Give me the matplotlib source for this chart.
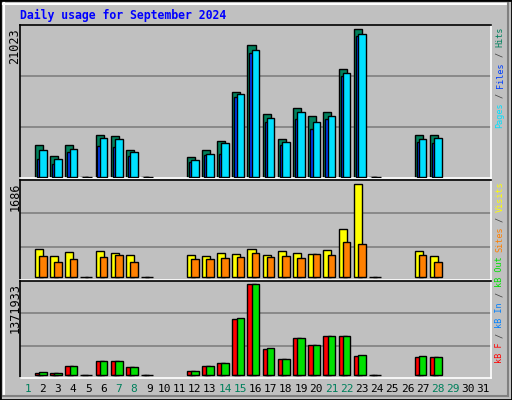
import numpy as np
import matplotlib
matplotlib.use("Agg")
import matplotlib.pyplot as plt
from matplotlib.patches import Rectangle
from matplotlib.lines import Line2D

N = np.nan
days = list(range(1, 32))
hits  = [N,4500,2940,4500,0,5920,5770,3790,0,N,N,2800,3790,5070,12030,18700,8900,5350,9750,8620,9190,15290,21023,0,N,N,5920,5920,N,N,N]
files = [N,3790,2510,3930,0,5490,5350,3510,0,N,N,2370,3220,4790,11740,17990,8330,4930,9190,7770,8620,14730,20260,0,N,N,5350,5490,N,N,N]
pages = [N,2510,1800,3510,0,4360,4210,2940,0,N,N,2090,3080,3220,11320,17560,7770,4500,8190,6770,8190,14300,19980,0,N,N,4930,4790,N,N,N]
visits = [N,499,371,444,0,462,426,389,0,N,N,389,371,426,408,499,389,462,426,408,481,864,1686,0,N,N,462,371,N,N,N]
sites  = [N,371,262,316,0,353,389,262,0,N,N,316,316,335,353,426,353,371,335,408,389,627,590,0,N,N,389,262,N,N,N]
kb_f   = [N,35000,35000,140000,0,215000,215000,125000,0,N,N,65000,140000,185000,846000,1371933,395000,245000,561000,455000,591000,591000,290000,0,N,N,275000,275000,N,N,N]
kb_in  = [N,8000,8000,8000,0,8000,8000,8000,0,N,N,8000,8000,8000,8000,8000,8000,8000,8000,8000,8000,8000,8000,0,N,N,8000,8000,N,N,N]
kb_out = [N,50000,35000,140000,0,215000,215000,125000,0,N,N,65000,140000,185000,861000,1371933,410000,245000,561000,455000,591000,591000,305000,0,N,N,290000,275000,N,N,N]
weekend = [1,7,8,14,15,21,22,28,29]
max_hits, max_visits, max_kb = "21023", "1686", "1371933"

W, H = 512, 400
BG = "#C0C0C0"
fig = plt.figure(figsize=(W/100, H/100), dpi=100, facecolor=BG)

def fx(x): return x / W
def fy(y): return 1 - y / H

def add_axes(top, bottom, lo, hi):
    ax = fig.add_axes([fx(20), fy(bottom), fx(491) - fx(20), fy(top) - fy(bottom)])
    ax.set_facecolor(BG)
    ax.set_xlim(0.5, 31.5)
    ax.set_ylim(lo, hi)
    for v in (lo + (hi - lo) / 3, lo + 2 * (hi - lo) / 3):
        ax.axhline(v, color="#808080", lw=1.2, zorder=0)
    ax.set_xticks([]); ax.set_yticks([])
    ax.spines["top"].set_color("black"); ax.spines["left"].set_color("black")
    ax.spines["bottom"].set_color("white"); ax.spines["right"].set_color("white")
    for s in ax.spines.values(): s.set_linewidth(1.2)
    return ax

d = np.array(days, dtype=float)
ekw = dict(edgecolor="black", linewidth=1.0, align="edge")

ax1 = add_axes(25, 178, -142, 21584)
ax1.bar(d - 0.53, hits, 0.53, color="#00805C", zorder=2, **ekw)
ax1.bar(d - 0.40, pages, 0.35, color="#0040FF", zorder=3, **ekw)
ax1.bar(d - 0.24, files, 0.49, color="#00E0FF", zorder=4, **ekw)

ax2 = add_axes(180, 280, -60, 1764)
ax2.bar(d - 0.53, visits, 0.53, color="#FFFF00", zorder=2, **ekw)
ax2.bar(d - 0.24, sites, 0.49, color="#FF8000", zorder=3, **ekw)

ax3 = add_axes(281, 378, -39000, 1418500)
ax3.bar(d - 0.53, kb_f, 0.53, color="#FF0000", zorder=2, **ekw)
ax3.bar(d - 0.40, kb_in, 0.2, color="#0080FF", zorder=3, **ekw)
ax3.bar(d - 0.24, kb_out, 0.49, color="#00E000", zorder=4, **ekw)

# borders
fig.add_artist(Rectangle((0, 0), 1, 1, transform=fig.transFigure, fill=False, edgecolor="black", lw=2))
fig.add_artist(Line2D([fx(3), fx(508)], [fy(4), fy(4)], transform=fig.transFigure, color="white", lw=1.5))
fig.add_artist(Line2D([fx(4), fx(4)], [fy(3), fy(396)], transform=fig.transFigure, color="white", lw=1.5))
fig.add_artist(Line2D([fx(3), fx(508)], [fy(396), fy(396)], transform=fig.transFigure, color="#808080", lw=1.5))
fig.add_artist(Line2D([fx(508), fx(508)], [fy(3), fy(396)], transform=fig.transFigure, color="#808080", lw=1.5))

mono = "DejaVu Sans Mono"
fig.text(fx(20), fy(15), "Daily usage for September 2024", color="#0000FF",
         family=mono, fontweight="bold", fontsize=8.3, va="center", ha="left")

for lbl, y in ((max_hits, 28), (max_visits, 182), (max_kb, 283)):
    fig.text(fx(15), fy(y), lbl, rotation=90, family=mono, fontsize=8.5,
             ha="center", va="top", color="black")

for dd in days:
    x = 20 + (dd - 0.5) * (471 / 31)
    fig.text(fx(x), fy(389), str(dd), family=mono, fontsize=8, ha="center", va="center",
             color="#00805C" if dd in weekend else "black")

def vlabel(pieces, ybottom, cw=5.05):
    y = ybottom
    for txt, col in pieces:
        n = len(txt)
        s = txt.strip()
        lead = len(txt) - len(txt.lstrip())
        if s:
            fig.text(fx(500), fy(y - lead * cw), s, rotation=90, family=mono, fontsize=6.1,
                     ha="center", va="bottom", color=col)
        y -= cw * n

sep = "#404040"
vlabel([("Pages", "#00E0FF"), (" / ", sep), ("Files", "#0040FF"), (" / ", sep), ("Hits", "#00805C")], 128)
vlabel([("kB F", "#FF0000"), (" / ", sep), ("kB In", "#0080FF"), (" / ", sep), ("kB Out", "#00E000"),
        (" ", sep), ("Sites", "#FF8000"), (" / ", sep), ("Visits", "#FFFF00")], 363)

fig.savefig("out.png", dpi=100, facecolor=BG)
